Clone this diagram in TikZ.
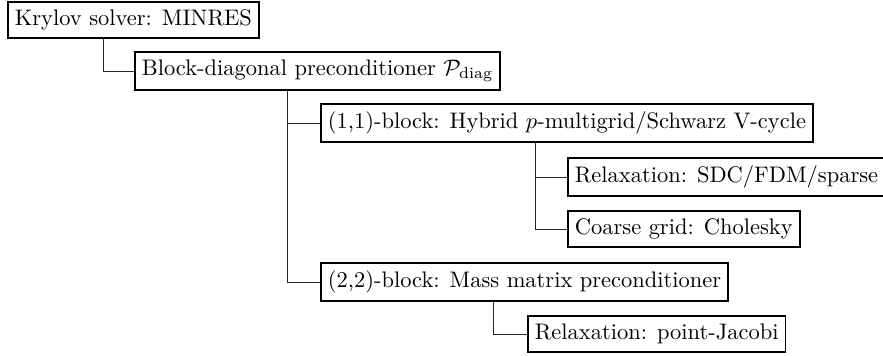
\documentclass[tikz,border=0pt]{standalone}
\usepackage{amsmath}
\usepackage{tikz}
\usetikzlibrary{positioning}
\tikzstyle{level} = [rectangle, draw=black, thick, anchor=west, inner xsep=3.1pt, inner ysep=3.4pt, minimum height=0.55cm]
\tikzstyle{branch} = [thin, draw=black!85]

\begin{document}
\begin{tikzpicture}[x=0.1563mm, y=-0.1563mm]
        \useasboundingbox (0,0) rectangle (883,356);
        \node (krylov) [level] at (7,20) {Krylov solver: MINRES};
        \node (bdiag) [level] at (134,71) {Block-diagonal preconditioner $\mathcal{P}_{\text{diag}}$};
        \node (b11) [level] at (320,123) {(1,1)-block: Hybrid $p$-multigrid/Schwarz V-cycle};
        \node (relax1) [level] at (567,177) {Relaxation: SDC/FDM/sparse};
        \node (coarse) [level] at (567,229) {Coarse grid: Cholesky};
        \node (b22) [level] at (320,282) {(2,2)-block: Mass matrix preconditioner};
        \node (relax2) [level] at (527,334) {Relaxation: point-Jacobi};

        % vertical trunks
        \coordinate (t1) at (103,0);
        \coordinate (t2) at (287,0);
        \coordinate (t3) at (535,0);
        \coordinate (t4) at (493,0);

        \draw [branch] (krylov.south -| t1) |- (bdiag.west);
        \draw [branch] (bdiag.south -| t2) |- (b11.west);
        \draw [branch] (bdiag.south -| t2) |- (b22.west);
        \draw [branch] (b11.south -| t3) |- (relax1.west);
        \draw [branch] (b11.south -| t3) |- (coarse.west);
        \draw [branch] (b22.south -| t4) |- (relax2.west);
    \end{tikzpicture}
\end{document}
